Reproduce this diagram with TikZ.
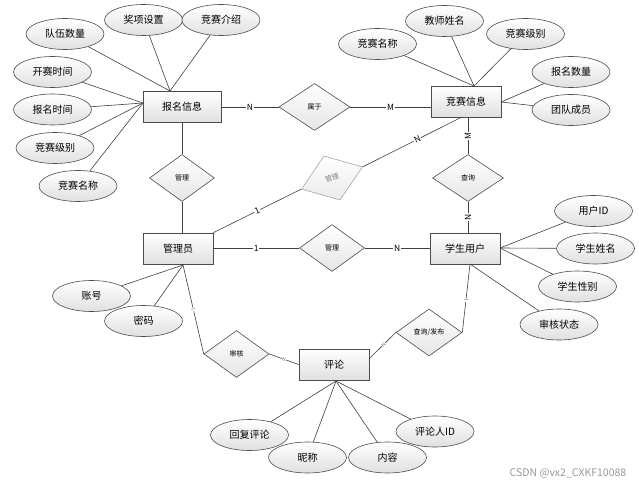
\documentclass[tikz,border=0pt]{standalone}
\usepackage{fontspec}
\setmainfont{Noto Sans CJK SC}
\usetikzlibrary{shapes.geometric,shadows}
\begin{document}
\begin{tikzpicture}[x=1pt,y=-1pt,
  ent/.style={draw=black!70, line width=0.7pt, rectangle, minimum width=70pt, minimum height=31pt, inner sep=0pt,
    top color=white, bottom color=black!12, font=\fontsize{10}{12}\selectfont,
    drop shadow={shadow xshift=1pt, shadow yshift=-1pt, opacity=0.35, fill=black!60}},
  attr/.style={draw=black!70, line width=0.6pt, ellipse, minimum width=78pt, minimum height=31pt, inner sep=0pt,
    top color=white, bottom color=black!12, font=\fontsize{10}{12}\selectfont},
  rel/.style={draw=black!70, line width=0.6pt, diamond, minimum width=65pt, minimum height=47pt, inner sep=0pt,
    top color=white, bottom color=black!10, font=\fontsize{7}{8}\selectfont},
  link/.style={draw=black!75, line width=0.6pt},
  card/.style={fill=white, inner sep=0.8pt, font=\fontsize{8.5}{9}\selectfont},
  tiny/.style={fill=white, inner sep=0.3pt, text=black!55, font=\fontsize{5}{6}\selectfont, sloped},
]
\useasboundingbox (0,0) rectangle (639,486);
\fill[white] (0,0) rectangle (639,486);

% entities
\node[ent, minimum width=78pt] (bm) at (182,107) {报名信息};
\node[ent] (js) at (466,101.5) {竞赛信息};
\node[ent] (gly) at (178,248.5) {管理员};
\node[ent] (xs) at (465,248.5) {学生用户};
\node[ent] (pl) at (334,364.5) {评论};

% relationships
\node[rel, minimum width=71pt] (sy) at (314.5,107) {属于};
\node[rel] (gl1) at (182,178) {管理};
\node[rel, draw=black!35, top color=white, bottom color=black!8, rotate=20, text=black!50] (gl3) at (332,178) {管理};
\node[rel] (gl2) at (332,248) {管理};
\node[rel, minimum width=71pt] (cx) at (468,178) {查询};
\node[rel] (sh) at (236.5,354) {审核};
\node[rel, minimum width=66pt] (cf) at (429,332.5) {查询/发布};

% attributes of 报名信息
\node[attr] (a1) at (65,34) {队伍数量};
\node[attr] (a2) at (143.5,20) {奖项设置};
\node[attr] (a3) at (221,20) {竞赛介绍};
\node[attr] (a4) at (52.5,72) {开赛时间};
\node[attr] (a5) at (52.5,109.5) {报名时间};
\node[attr] (a6) at (55,148) {竞赛级别};
\node[attr] (a7) at (78,186) {竞赛名称};
\coordinate (bmT) at (170,91);
\coordinate (bmL) at (143,103);
\foreach \a in {a1,a2,a3} \draw[link] (\a) -- (bmT);
\foreach \a in {a4,a5,a6,a7} \draw[link] (\a) -- (bmL);

% attributes of 竞赛信息
\node[attr] (b1) at (377.5,44) {竞赛名称};
\node[attr] (b2) at (444.5,21) {教师姓名};
\node[attr] (b3) at (525.5,34) {竞赛级别};
\node[attr] (b4) at (571,72) {报名数量};
\node[attr] (b5) at (571,110) {团队成员};
\coordinate (jsT) at (474,86);
\coordinate (jsR) at (501,102);
\foreach \a in {b1,b2,b3} \draw[link] (\a) -- (jsT);
\foreach \a in {b4,b5} \draw[link] (\a) -- (jsR);

% attributes of 学生用户
\node[attr] (c1) at (593.5,211) {用户ID};
\node[attr] (c2) at (595.5,248.5) {学生姓名};
\node[attr] (c3) at (577.5,286.5) {学生性别};
\node[attr] (c4) at (559,324.5) {审核状态};
\coordinate (xsR) at (500,248);
\coordinate (xsB) at (470,264);
\foreach \a in {c1,c2,c3} \draw[link] (\a) -- (xsR);
\draw[link] (c4) -- (xsB);

% attributes of 管理员
\node[attr] (d1) at (91.5,296) {账号};
\node[attr] (d2) at (143.5,321) {密码};
\coordinate (glyB) at (183,265);
\foreach \a in {d1,d2} \draw[link] (\a) -- (glyB);

% attributes of 评论
\node[attr] (e1) at (249.5,435) {回复评论};
\node[attr] (e2) at (307.5,457.5) {昵称};
\node[attr] (e3) at (387.5,457.5) {内容};
\node[attr] (e4) at (435,431.5) {评论人ID};
\coordinate (plB) at (336,381);
\foreach \a in {e1,e2,e3,e4} \draw[link] (\a) -- (plB);

% relationship links
\draw[link] (bm.east) -- node[card]{N} (sy.west);
\draw[link] (sy.east) -- node[card]{M} (sy.east -| js.west);
\draw[link] (bm.south -| gl1.north) -- (gl1.north);
\draw[link] (gl1.south) -- (gl1.south |- gly.north);
\draw[link] (gly.north east) -- node[card, sloped]{1} (gl3.west);
\coordinate (jsB) at (462,117);
\draw[link] (gl3.east) -- node[card, sloped, pos=0.55]{N} (jsB);
\draw[link] (cx.north |- js.south) -- node[card, rotate=90]{M} (cx.north);
\draw[link] (cx.south) -- node[card, rotate=90]{N} (cx.south |- xs.north);
\draw[link] (gly.east |- gl2.west) -- node[card]{1} (gl2.west);
\draw[link] (gl2.east) -- node[card]{N} (gl2.east -| xs.west);
\draw[link] (glyB) -- node[tiny]{1} (sh.west);
\draw[link] (sh.east) -- node[tiny]{N} (pl.west);
\coordinate (plR) at (369,359);
\draw[link] (plR) -- node[tiny, pos=0.55]{N} (cf.west);
\draw[link] (cf.east) -- node[tiny, pos=0.47]{1} (xsB);

% watermark
\node[text=black!40, font=\fontsize{10.5}{12}\selectfont, inner sep=0pt] (wm) at (568,473) {CSDN @vx2\_CXKF10088};
\end{tikzpicture}
\end{document}
